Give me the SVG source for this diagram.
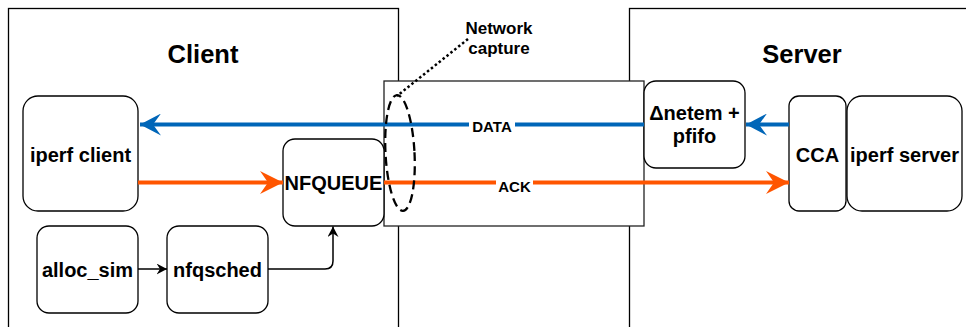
<svg xmlns="http://www.w3.org/2000/svg" width="966" height="327" viewBox="0 0 966 327">
<style>
.frame{fill:#fff;stroke:#000;stroke-width:1.3}
.node{fill:#fff;stroke:#000;stroke-width:1.3}
.t{font-family:"Liberation Sans",Arial,sans-serif;font-weight:bold;fill:#000;text-anchor:middle}
.title{font-size:25.5px}
.lbl{font-size:20px}
.edge{font-size:15px}
.blue{stroke:#0066B8;stroke-width:4;fill:none}
.orange{stroke:#FF5500;stroke-width:4;fill:none}
.blk{stroke:#000;stroke-width:1.5;fill:none}
</style>
<defs>
<marker id="ab" viewBox="0 0 22 22" refX="21" refY="11" markerWidth="22" markerHeight="22" markerUnits="userSpaceOnUse" orient="auto">
<path d="M21,11 L0,0 L8,11 L0,22 Z" fill="#0066B8"/>
</marker>
<marker id="ao" viewBox="0 0 24 24" refX="23" refY="12" markerWidth="24" markerHeight="24" markerUnits="userSpaceOnUse" orient="auto">
<path d="M23,12 L0,0.5 L8,12 L0,23.5 Z" fill="#FF5500"/>
</marker>
<marker id="ak" viewBox="0 0 11 11" refX="10.5" refY="5.5" markerWidth="11" markerHeight="11" markerUnits="userSpaceOnUse" orient="auto">
<path d="M10.5,5.5 L0,0 L3.5,5.5 L0,11 Z" fill="#000"/>
</marker>
</defs>
<rect width="966" height="327" fill="#fff"/>
<g id="client-frame">
<rect class="frame" x="8.5" y="8.5" width="390" height="330"/>
<text class="t title" x="203" y="63">Client</text>
</g>
<g id="server-frame">
<rect class="frame" x="629.5" y="8.5" width="360" height="330"/>
<text class="t title" x="802" y="63">Server</text>
</g>
<g id="network">
<rect x="384" y="81" width="260" height="145" fill="#fff" stroke="#222" stroke-width="1.3"/>
</g>
<g id="iperf-client">
<rect class="node" x="23" y="96" width="115" height="115" rx="15"/>
<text class="t lbl" x="80.5" y="162">iperf client</text>
</g>
<g id="nfqueue">
<rect class="node" x="283" y="139" width="101" height="87" rx="12"/>
<text class="t lbl" x="333.5" y="190">NFQUEUE</text>
</g>
<g id="alloc-sim">
<rect class="node" x="37" y="226" width="101" height="87" rx="12"/>
<text class="t lbl" x="87.5" y="277">alloc_sim</text>
</g>
<g id="nfqsched">
<rect class="node" x="167" y="226" width="101" height="87" rx="12"/>
<text class="t lbl" x="217.5" y="277">nfqsched</text>
</g>
<g id="netem">
<rect class="node" x="644" y="81" width="101" height="87" rx="12"/>
<text class="t lbl" x="694.5" y="120">Δnetem +</text>
<text class="t lbl" x="694.5" y="143">pfifo</text>
</g>
<g id="cca">
<rect class="node" x="789" y="96" width="57" height="115" rx="10"/>
<text class="t lbl" x="817.5" y="162">CCA</text>
</g>
<g id="iperf-server">
<rect class="node" x="847" y="96" width="115" height="115" rx="15"/>
<text class="t lbl" x="904.5" y="162">iperf server</text>
</g>
<g id="connectors">
<path class="blue" d="M644,124.5 L140,124.5" marker-end="url(#ab)"/>
<path class="blue" d="M789,124.5 L746,124.5" marker-end="url(#ab)"/>
<path class="orange" d="M138,182.5 L283,182.5" marker-end="url(#ao)"/>
<path class="orange" d="M384,182.5 L789,182.5" marker-end="url(#ao)"/>
<path class="blk" d="M138,269 L167,269" marker-end="url(#ak)"/>
<path class="blk" d="M268,269 L325,269 Q333,269 333,261 L333,226.5" marker-end="url(#ak)"/>
<rect x="469" y="116" width="46" height="17" fill="#fff"/>
<text class="t edge" x="492" y="131.5" font-size="15.5px">DATA</text>
<rect x="496" y="176" width="37" height="18" fill="#fff"/>
<text class="t edge" x="514.5" y="192" font-size="15.5px">ACK</text>
</g>
<g id="capture">
<ellipse cx="400" cy="153" rx="14.5" ry="58" fill="none" stroke="#000" stroke-width="2.3" stroke-dasharray="9 5" transform="rotate(-3 400 153)"/>
<path d="M468,39 L397,96" fill="none" stroke="#000" stroke-width="2.5" stroke-dasharray="2.5 2.5"/>
<text class="t" x="499" y="34" font-size="17px">Network</text>
<text class="t" x="499" y="54" font-size="17px">capture</text>
</g>
</svg>
